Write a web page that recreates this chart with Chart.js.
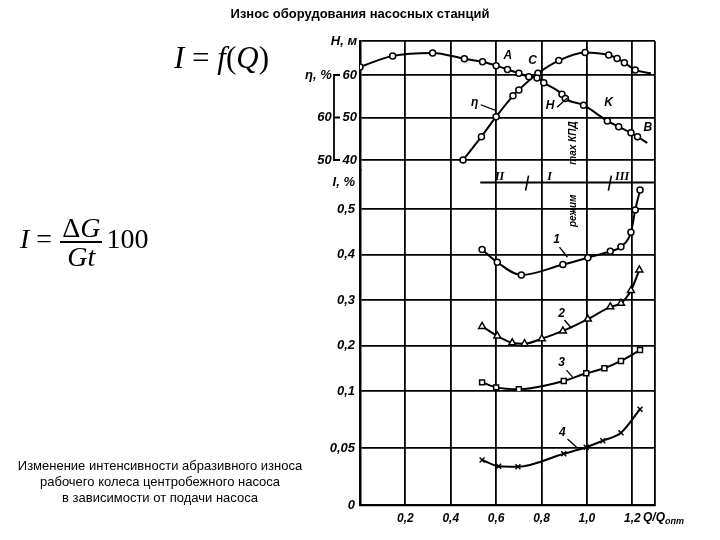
<!DOCTYPE html>
<html><head><meta charset="utf-8">
<script src="https://cdn.jsdelivr.net/npm/chart.js@4.4.0/dist/chart.umd.min.js"></script>
<style>
html,body{margin:0;padding:0;background:#fff;}
#wrap{position:relative;width:720px;height:540px;overflow:hidden;background:#fff;}
canvas{position:absolute;left:0;top:0;}
.t{position:absolute;white-space:nowrap;color:#000;}
.ser{font-family:'Liberation Serif','Times New Roman',serif;}
.frac{display:inline-block;vertical-align:middle;text-align:center;margin:0 4px 0 8px;}
.frac span{display:block;line-height:27px;}
.frac .num{border-bottom:2px solid #000;padding:0 2px;}
</style></head><body>
<div id="wrap">
<canvas id="c" width="720" height="540"></canvas>
<div class="t" style="left:0;width:720px;top:6px;text-align:center;font:bold 13px 'Liberation Sans',Arial,sans-serif;">Износ оборудования насосных станций</div>
<div class="t ser" style="left:174px;top:40px;font-size:31px;line-height:36px;"><i>I</i> = <i>f</i>(<i>Q</i>)</div>
<div class="t ser" style="left:20px;top:214px;font-size:28px;"><i>I</i> =<span class="frac"><span class="num">Δ<i>G</i></span><span><i>Gt</i></span></span>100</div>
<div class="t" style="left:0;width:320px;top:458px;text-align:center;font:13px 'Liberation Sans',Arial,sans-serif;line-height:16px;">Изменение интенсивности абразивного износа<br>рабочего колеса центробежного насоса<br>в зависимости от подачи насоса</div>
</div>
<script>
// ---- data ----
const qH    = [0, 0.144, 0.32, 0.46, 0.54, 0.60, 0.65, 0.70, 0.744, 0.78, 0.81, 0.89, 0.905, 0.985, 1.09, 1.14, 1.194, 1.223, 1.266];
const headH = [61.9, 64.5, 65.2, 63.8, 63.1, 62.2, 61.3, 60.4, 59.6, 59.3, 58.2, 55.5, 54.5, 52.9, 49.2, 47.8, 46.4, 45.5, 44.0];
const qEta  = [0.454, 0.535, 0.60, 0.674, 0.70, 0.784, 0.876, 0.992, 1.096, 1.133, 1.165, 1.213, 1.282];
const effEta= [50.0, 55.5, 60.2, 65.1, 66.5, 70.4, 73.4, 75.3, 74.7, 73.9, 72.9, 71.2, 70.4];
const q1    = [0.538, 0.605, 0.711, 0.894, 1.004, 1.103, 1.150, 1.194, 1.213, 1.234];
const wear1 = [0.411, 0.383, 0.355, 0.378, 0.393, 0.407, 0.417, 0.449, 0.498, 0.542];
const q2    = [0.538, 0.605, 0.671, 0.725, 0.801, 0.894, 1.004, 1.103, 1.150, 1.194, 1.231];
const wear2 = [0.242, 0.221, 0.206, 0.204, 0.215, 0.232, 0.258, 0.285, 0.293, 0.321, 0.366];
const q3    = [0.538, 0.600, 0.700, 0.898, 0.997, 1.077, 1.150, 1.234];
const wear3 = [0.119, 0.108, 0.104, 0.122, 0.139, 0.150, 0.166, 0.190];
const q4    = [0.538, 0.611, 0.696, 0.898, 0.997, 1.070, 1.150, 1.234];
const wear4 = [0.0395, 0.034, 0.0336, 0.045, 0.0506, 0.0564, 0.0634, 0.084];

// ---- ticks ----
const xTicks = [0, 0.2, 0.4, 0.6, 0.8, 1.0, 1.2, 1.3];
const xTickLabels = ['', '0,2', '0,4', '0,6', '0,8', '1,0', '1,2', ''];
const lowTicks = [0, 0.05, 0.1];
const lowTickLabels = ['0', '0,05', '0,1'];
const highTicks = [0.2, 0.3, 0.4, 0.5, 0.558];
const highTickLabels = ['0,2', '0,3', '0,4', '0,5', 'I, %'];
const headTicks = [40, 50, 60, 68];
const headTickLabels = ['40', '50', '60', 'H, м'];
const etaTicks = [50, 60, 70];
const etaTickLabels = ['50', '60', 'η, %'];
const modeLevel = 0.558;
const modeBounds = [0.734, 1.099];
const modeNames = [['II', 0.615], ['I', 0.835], ['III', 1.155]];

// ---- annotations (text near the curves) ----
const notes = [
  ['A', 0.651, 64.5, 'yH'], ['C', 0.760, 63.3, 'yH'], ['η', 0.505, 53.4, 'yH'],
  ['H', 0.838, 52.8, 'yH'], ['K', 1.095, 53.4, 'yH'], ['B', 1.268, 47.6, 'yH'],
  ['1', 0.866, 0.432, 'yHigh'], ['2', 0.888, 0.271, 'yHigh'], ['3', 0.888, 0.1615, 'yHigh'],
  ['4', 0.892, 0.0632, 'yLow']
];
const leaders = [
  [0.532, 53.0, 0.600, 51.6, 'yH'], [0.868, 52.4, 0.914, 54.6, 'yH'],
  [0.879, 0.416, 0.914, 0.394, 'yHigh'], [0.901, 0.256, 0.932, 0.238, 'yHigh'],
  [0.910, 0.146, 0.936, 0.131, 'yHigh'], [0.914, 0.0579, 0.954, 0.0509, 'yLow']
];

const BLACK = '#000';
const FAM = "'Liberation Sans Narrow','Liberation Sans','DejaVu Sans',sans-serif";
const tickFont = {family: FAM, size: 13, style: 'italic', weight: 'bold'};
const xFont = {family: FAM, size: 12, style: 'italic', weight: 'bold'};

function pts(xs, ys) { return xs.map((x, i) => ({x: x, y: ys[i]})); }
function fixedTicks(vals) { return s => { s.ticks = vals.map(v => ({value: v})); }; }

const lineBase = {borderColor: BLACK, borderWidth: 2, cubicInterpolationMode: 'monotone',
  pointBackgroundColor: '#fff', pointBorderColor: BLACK, pointBorderWidth: 1.5, fill: false};

const overlay = {
  id: 'overlay',
  afterDraw(chart) {
    const ctx = chart.ctx, s = chart.scales;
    const X = v => s.x.getPixelForValue(v);
    ctx.save();
    ctx.strokeStyle = BLACK; ctx.fillStyle = BLACK;
    // eta bracket
    const bx = s.yH.right - 26;
    const e70 = s.yEta.getPixelForValue(70), e60 = s.yEta.getPixelForValue(60), e50 = s.yEta.getPixelForValue(50);
    ctx.lineWidth = 1.8;
    ctx.beginPath();
    ctx.moveTo(bx + 6, e70); ctx.lineTo(bx, e70); ctx.lineTo(bx, e50); ctx.lineTo(bx + 6, e50);
    ctx.moveTo(bx, e60); ctx.lineTo(bx + 6, e60);
    ctx.stroke();
    // mode line
    const my = s.yHigh.getPixelForValue(modeLevel);
    ctx.lineWidth = 2;
    ctx.beginPath(); ctx.moveTo(X(0.53), my); ctx.lineTo(X(1.3), my); ctx.stroke();
    ctx.lineWidth = 1.6;
    modeBounds.forEach(q => {
      ctx.beginPath(); ctx.moveTo(X(q) + 2, my - 7); ctx.lineTo(X(q) - 1, my + 8); ctx.stroke();
    });
    ctx.font = "italic bold 12px 'Liberation Serif',serif";
    ctx.textAlign = 'center'; ctx.textBaseline = 'alphabetic';
    modeNames.forEach(([t, q]) => ctx.fillText(t, X(q), my - 3));
    // rotated text
    ctx.font = "italic bold 10px " + FAM;
    const tx = X(0.941);
    [['max КПД', s.yH.getPixelForValue(44.0)], ['режим', s.yHigh.getPixelForValue(0.496)]].forEach(([t, y]) => {
      ctx.save(); ctx.translate(tx, y); ctx.rotate(-Math.PI / 2);
      ctx.textAlign = 'center'; ctx.textBaseline = 'middle'; ctx.fillText(t, 0, 0); ctx.restore();
    });
    // leaders
    ctx.lineWidth = 1.3;
    leaders.forEach(([qa, va, qb, vb, ax]) => {
      ctx.beginPath(); ctx.moveTo(X(qa), s[ax].getPixelForValue(va)); ctx.lineTo(X(qb), s[ax].getPixelForValue(vb)); ctx.stroke();
    });
    // notes
    ctx.font = "italic bold 12px " + FAM;
    ctx.textAlign = 'center'; ctx.textBaseline = 'middle';
    notes.forEach(([t, q, v, ax]) => ctx.fillText(t, X(q), s[ax].getPixelForValue(v)));
    // x axis title
    const ly = s.x.top + 13;
    ctx.textAlign = 'left'; ctx.textBaseline = 'middle';
    ctx.font = "italic bold 12px " + FAM;
    const qx = X(1.3) - 12;
    ctx.fillText('Q/Q', qx, ly);
    const w = ctx.measureText('Q/Q').width;
    ctx.font = "italic bold 9px " + FAM;
    ctx.fillText('опт', qx + w, ly + 4);
    ctx.restore();
  }
};

new Chart(document.getElementById('c'), {
  type: 'line',
  data: {
    datasets: [
      Object.assign({}, lineBase, {label: 'H', data: pts(qH, headH), yAxisID: 'yH', pointStyle: 'circle',
        pointRadius: c => c.dataIndex === qH.length - 1 ? 0 : 3}),
      Object.assign({}, lineBase, {label: 'η', data: pts(qEta, effEta), yAxisID: 'yEta', pointStyle: 'circle',
        pointRadius: c => c.dataIndex === qEta.length - 1 ? 0 : 3}),
      Object.assign({}, lineBase, {label: '1', data: pts(q1, wear1), yAxisID: 'yHigh', pointStyle: 'circle', pointRadius: 3}),
      Object.assign({}, lineBase, {label: '2', data: pts(q2, wear2), yAxisID: 'yHigh', pointStyle: 'triangle', pointRadius: 4}),
      Object.assign({}, lineBase, {label: '3', data: pts(q3, wear3), yAxisID: 'yHigh', pointStyle: 'rect', pointRadius: 3.5}),
      Object.assign({}, lineBase, {label: '4', data: pts(q4, wear4), yAxisID: 'yLow', pointStyle: 'crossRot', pointRadius: 3.5})
    ]
  },
  options: {
    responsive: false, animation: false, devicePixelRatio: 1,
    layout: {padding: {left: 0, right: 65, top: 41, bottom: 0}},
    plugins: {legend: {display: false}, tooltip: {enabled: false}, title: {display: false}},
    scales: {
      x: {type: 'linear', position: 'bottom', min: 0, max: 1.3,
        afterBuildTicks: fixedTicks(xTicks), afterFit: s => { s.height = 35; },
        ticks: {font: xFont, color: BLACK, padding: 6, maxRotation: 0, autoSkip: false,
          callback: (v, i) => xTickLabels[i]},
        grid: {color: BLACK, lineWidth: 1.8, drawTicks: false},
        border: {color: BLACK, width: 2.2}},
      yLow: {type: 'linear', position: 'left', stack: 'main', stackWeight: 114, weight: 1, min: 0, max: 0.1,
        afterBuildTicks: fixedTicks(lowTicks), afterFit: s => { s.width = 60; },
        ticks: {font: tickFont, color: BLACK, padding: 5, autoSkip: false, callback: (v, i) => lowTickLabels[i]},
        grid: {color: BLACK, lineWidth: 1.8, drawTicks: false},
        border: {color: BLACK, width: 2.5}},
      yHigh: {type: 'linear', position: 'left', stack: 'main', stackWeight: 221, weight: 2, min: 0.1, max: 0.5857,
        afterBuildTicks: fixedTicks(highTicks), afterFit: s => { s.width = 60; },
        ticks: {font: tickFont, color: BLACK, padding: 5, autoSkip: false, callback: (v, i) => highTickLabels[i]},
        grid: {color: c => (c.tick && c.tick.value > 0.55) ? 'rgba(0,0,0,0)' : BLACK, lineWidth: 1.8, drawTicks: false},
        border: {color: BLACK, width: 2.5}},
      yH: {type: 'linear', position: 'left', stack: 'main', stackWeight: 129, weight: 3, min: 37.65, max: 68,
        afterBuildTicks: fixedTicks(headTicks), afterFit: s => { s.width = 60; },
        ticks: {font: tickFont, color: BLACK, padding: 3, autoSkip: false, callback: (v, i) => headTickLabels[i]},
        grid: {color: BLACK, lineWidth: 1.8, drawTicks: false},
        border: {color: BLACK, width: 2.5}},
      etaLow: {type: 'linear', position: 'left', stack: 'eta', stackWeight: 114, weight: 11, display: false, min: 0, max: 1},
      etaMid: {type: 'linear', position: 'left', stack: 'eta', stackWeight: 221, weight: 12, display: false, min: 0, max: 1},
      yEta: {type: 'linear', position: 'left', stack: 'eta', stackWeight: 129, weight: 13, min: 47.65, max: 78,
        afterBuildTicks: fixedTicks(etaTicks), afterFit: s => { s.width = 300; },
        ticks: {font: tickFont, color: BLACK, padding: 5, mirror: true, crossAlign: 'far', autoSkip: false,
          callback: (v, i) => etaTickLabels[i]},
        grid: {display: false, drawTicks: false},
        border: {display: false}}
    }
  },
  plugins: [overlay]
});
</script>
</body></html>
